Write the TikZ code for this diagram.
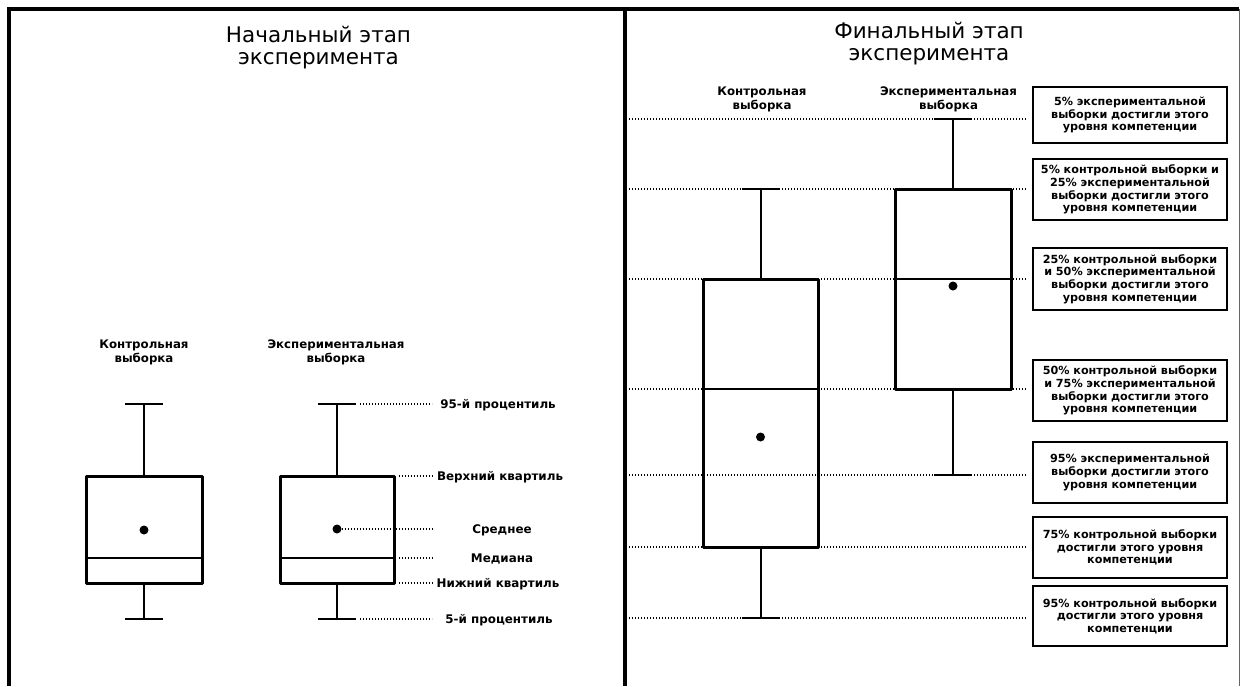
\documentclass[tikz,border=0pt]{standalone}
\usepackage{fontspec}
\setmainfont{DejaVu Sans}
\begin{document}
\begin{tikzpicture}[x=1pt,y=-1pt,
  ttl/.style={font=\fontsize{21.5}{22}\selectfont, align=center, inner sep=0pt},
  lab/.style={font=\bfseries\fontsize{11.8}{14}\selectfont, align=center, inner sep=0pt},
  side/.style={font=\bfseries\fontsize{11.9}{14}\selectfont, inner sep=0pt, anchor=base},
  info/.style={draw, line width=1.8pt, minimum width=194pt, text width=192pt, align=center, inner sep=0pt, font=\bfseries\fontsize{11.2}{12.6}\selectfont},
  leader/.style={line width=1.2pt, dash pattern=on 1pt off 2pt},
  bx/.style={draw, line width=3pt, line join=round, inner sep=0pt},
  whk/.style={line width=2pt},
  capl/.style={line width=2.6pt},
  mean/.style={circle, fill, inner sep=0pt, minimum size=9pt},
  frm/.style={line width=4pt}
]
\useasboundingbox (0,0) rectangle (1241,686);

% ---------- frame ----------
\draw[frm] (9,686) -- (9,9) -- (1239,9);
\draw[line width=1.2pt, black!60] (1239.5,9) -- (1239.5,686);
\draw[frm] (625,9) -- (625,686);

% ---------- left panel ----------
\node[ttl] (t1) at (318.5,48) {Начальный этап\\эксперимента};
\node[lab] (lc1) at (144,352) {Контрольная\\выборка};
\node[lab] (le1) at (336,352) {Экспериментальная\\выборка};

% control box (initial)
\node[bx, minimum width=116pt, minimum height=107pt] (icb) at (144,529.5) {};
\coordinate (icT) at (144,404);
\coordinate (icB) at (144,619);
\draw[whk] (icb.north) -- (icT);
\draw[whk] (icb.south) -- (icB);
\draw[capl] ([xshift=-19pt]icT) -- ([xshift=19pt]icT);
\draw[capl] ([xshift=-19pt]icB) -- ([xshift=19pt]icB);
\draw[whk] (icb.west |- 0,558) -- (icb.east |- 0,558);
\node[mean] (icm) at (144,530) {};

% experimental box (initial)
\node[bx, minimum width=114pt, minimum height=107pt] (ieb) at (337,529.5) {};
\coordinate (ieT) at (337,404);
\coordinate (ieB) at (337,619);
\draw[whk] (ieb.north) -- (ieT);
\draw[whk] (ieb.south) -- (ieB);
\draw[capl] ([xshift=-19pt]ieT) -- ([xshift=19pt]ieT);
\draw[capl] ([xshift=-19pt]ieB) -- ([xshift=19pt]ieB);
\draw[whk] (ieb.west |- 0,558) -- (ieb.east |- 0,558);
\node[mean] (iem) at (337,529) {};

% leader lines (initial)
\coordinate (q95) at (432,404);
\coordinate (qUq) at (432,476);
\coordinate (qMn) at (434,529);
\coordinate (qMd) at (434,558);
\coordinate (qLq) at (432,583);
\coordinate (q5)  at (432,619);
\draw[leader] ([xshift=23pt]ieT) -- (q95);
\draw[leader] ([xshift=3pt]ieb.east |- qUq) -- (qUq);
\draw[leader] (iem.east) -- (qMn);
\draw[leader] ([xshift=3pt]ieb.east |- qMd) -- (qMd);
\draw[leader] ([xshift=3pt]ieb.east |- qLq) -- (qLq);
\draw[leader] ([xshift=23pt]ieB) -- (q5);

\node[side] (l95) at (498,408.5) {95-й процентиль};
\node[side] (lUq) at (500,480.5) {Верхний квартиль};
\node[side] (lMn) at (502,533) {Среднее};
\node[side] (lMd) at (502,562.5) {Медиана};
\node[side] (lLq) at (498,587.5) {Нижний квартиль};
\node[side] (l5)  at (499,623) {5-й процентиль};

% ---------- right panel ----------
\node[ttl] (t2) at (929,44) {Финальный этап\\эксперимента};
\node[lab] (lc2) at (762,99) {Контрольная\\выборка};
\node[lab] (le2) at (948.5,99) {Экспериментальная\\выборка};

% info boxes
\node[info, minimum height=56pt] (b1) at (1130,115) {5\% экспериментальной\\выборки достигли этого\\уровня компетенции};
\node[info, minimum height=61pt] (b2) at (1130,189.5) {5\% контрольной выборки и\\25\% экспериментальной\\выборки достигли этого\\уровня компетенции};
\node[info, minimum height=62pt] (b3) at (1130,279) {25\% контрольной выборки\\и 50\% экспериментальной\\выборки достигли этого\\уровня компетенции};
\node[info, minimum height=61pt] (b4) at (1130,390.5) {50\% контрольной выборки\\и 75\% экспериментальной\\выборки достигли этого\\уровня компетенции};
\node[info, minimum height=61pt] (b5) at (1130,472.5) {95\% экспериментальной\\выборки достигли этого\\уровня компетенции};
\node[info, minimum height=61pt] (b6) at (1130,547.5) {75\% контрольной выборки\\достигли этого уровня\\компетенции};
\node[info, minimum height=60pt] (b7) at (1130,616) {95\% контрольной выборки\\достигли этого уровня\\компетенции};

% dotted guide lines
\coordinate (r1) at (629,119);
\coordinate (r2) at (629,189);
\coordinate (r3) at (629,279);
\coordinate (r4) at (629,389);
\coordinate (r5) at (629,475);
\coordinate (r6) at (629,547);
\coordinate (r7) at (629,618);
\draw[leader, shorten >=5pt] (r1) -- (b1.west |- r1);
\draw[leader, shorten >=5pt] (r2) -- (b2.west |- r2);
\draw[leader, shorten >=5pt] (r3) -- (b3.west |- r3);
\draw[leader, shorten >=5pt] (r4) -- (b4.west |- r4);
\draw[leader, shorten >=5pt] (r5) -- (b5.west |- r5);
\draw[leader, shorten >=5pt] (r6) -- (b6.west |- r6);
\draw[leader, shorten >=5pt] (r7) -- (b7.west |- r7);

% control box (final)
\node[bx, minimum width=115pt, minimum height=268pt] (fcb) at (760.5,413) {};
\coordinate (fcT) at (760.5,189);
\coordinate (fcB) at (760.5,618);
\draw[whk] (fcb.north) -- (fcT);
\draw[whk] (fcb.south) -- (fcB);
\draw[capl] ([xshift=-19pt]fcT) -- ([xshift=19pt]fcT);
\draw[capl] ([xshift=-19pt]fcB) -- ([xshift=19pt]fcB);
\draw[whk] (fcb.west |- 0,389) -- (fcb.east |- 0,389);
\node[mean] (fcm) at (760.5,437) {};

% experimental box (final)
\node[bx, minimum width=116pt, minimum height=200pt] (feb) at (953,289) {};
\coordinate (feT) at (953,119);
\coordinate (feB) at (953,475);
\draw[whk] (feb.north) -- (feT);
\draw[whk] (feb.south) -- (feB);
\draw[capl] ([xshift=-19pt]feT) -- ([xshift=19pt]feT);
\draw[capl] ([xshift=-19pt]feB) -- ([xshift=19pt]feB);
\draw[whk] (feb.west |- 0,279) -- (feb.east |- 0,279);
\node[mean] (fem) at (953,286) {};
\end{tikzpicture}
\end{document}
